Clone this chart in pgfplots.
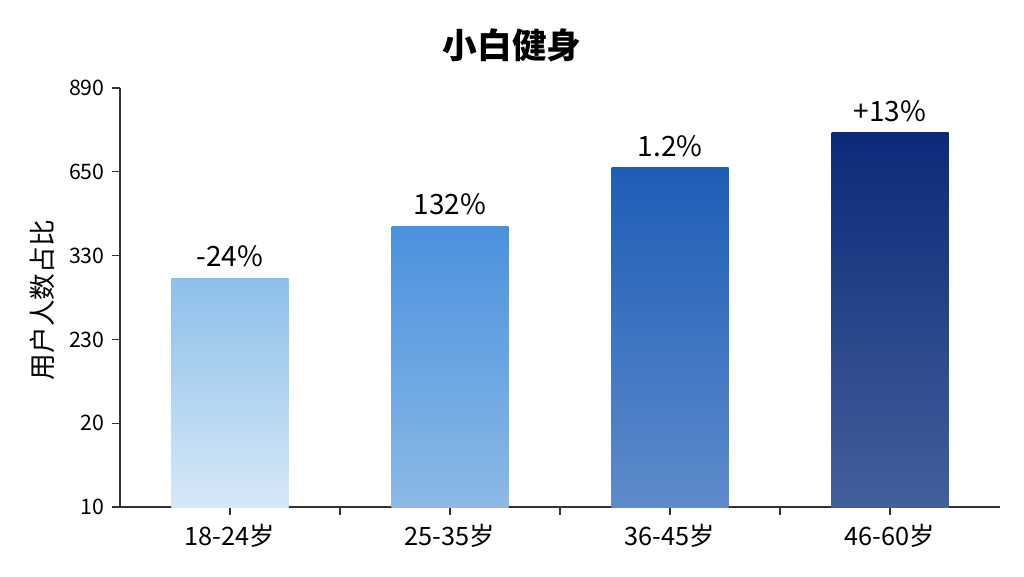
\documentclass[border=0pt]{standalone}
\usepackage{pgfplots}
\pgfplotsset{compat=1.18}
\usepackage{fontspec}
\setmainfont{Noto Sans CJK SC}
\definecolor{aT}{HTML}{8DC0EA}\definecolor{aB}{HTML}{D6E8F7}
\definecolor{bT}{HTML}{4A92DD}\definecolor{bB}{HTML}{8CB9E6}
\definecolor{cT}{HTML}{1E5DB8}\definecolor{cB}{HTML}{5E8BCB}
\definecolor{dT}{HTML}{0C2A78}\definecolor{dB}{HTML}{42609C}
\definecolor{axc}{HTML}{333333}
\begin{document}
\begin{tikzpicture}
\useasboundingbox (-90pt,-51.75pt) rectangle (678pt,380.25pt);
\begin{axis}[
  at={(0,0)}, anchor=south west,
  scale only axis, width=660pt, height=314.25pt,
  xmin=-0.5, xmax=3.5, ymin=0, ymax=5,
  axis lines*=left,
  axis line style={axc, line width=0.9pt},
  xtick={0,1,2,3},
  xticklabels={18-24岁,25-35岁,36-45岁,46-60岁},
  minor xtick={0.5,1.5,2.5},
  ytick={0,1,2,3,4,5},
  yticklabels={10,20,230,330,650,890},
  tick align=outside,
  tick style={axc, line width=0.8pt},
  major tick length=6pt, minor tick length=6pt,
  xticklabel style={font=\fontsize{19}{21}\selectfont, yshift=-3pt},
  yticklabel style={font=\fontsize{16}{18}\selectfont, xshift=-2pt},
  clip=false,
]
\addplot[ybar, bar width=87.75pt, bar shift=0pt, draw=none, top color=aT, bottom color=aB] coordinates {(0,2.726)};
\addplot[ybar, bar width=87.75pt, bar shift=0pt, draw=none, top color=bT, bottom color=bB] coordinates {(1,3.345)};
\addplot[ybar, bar width=87.75pt, bar shift=0pt, draw=none, top color=cT, bottom color=cB] coordinates {(2,4.048)};
\addplot[ybar, bar width=87.75pt, bar shift=0pt, draw=none, top color=dT, bottom color=dB] coordinates {(3,4.464)};
\addplot[draw=none, mark=none, nodes near coords, point meta=explicit symbolic,
  every node near coord/.style={anchor=south, black, font=\fontsize{21}{23}\selectfont, yshift=5pt}]
  table[meta=lab] {
x y lab
0 2.726 -24\%
1 3.345 132\%
2 4.048 1.2\%
3 4.464 +13\%
};
\end{axis}
\node[rotate=90, font=\fontsize{20}{22}\selectfont] at (-58.5pt,155.25pt) {用户人数占比};
\node[font=\fontsize{26}{28}\selectfont\bfseries] at (294pt,346.5pt) {小白健身};
\end{tikzpicture}
\end{document}
